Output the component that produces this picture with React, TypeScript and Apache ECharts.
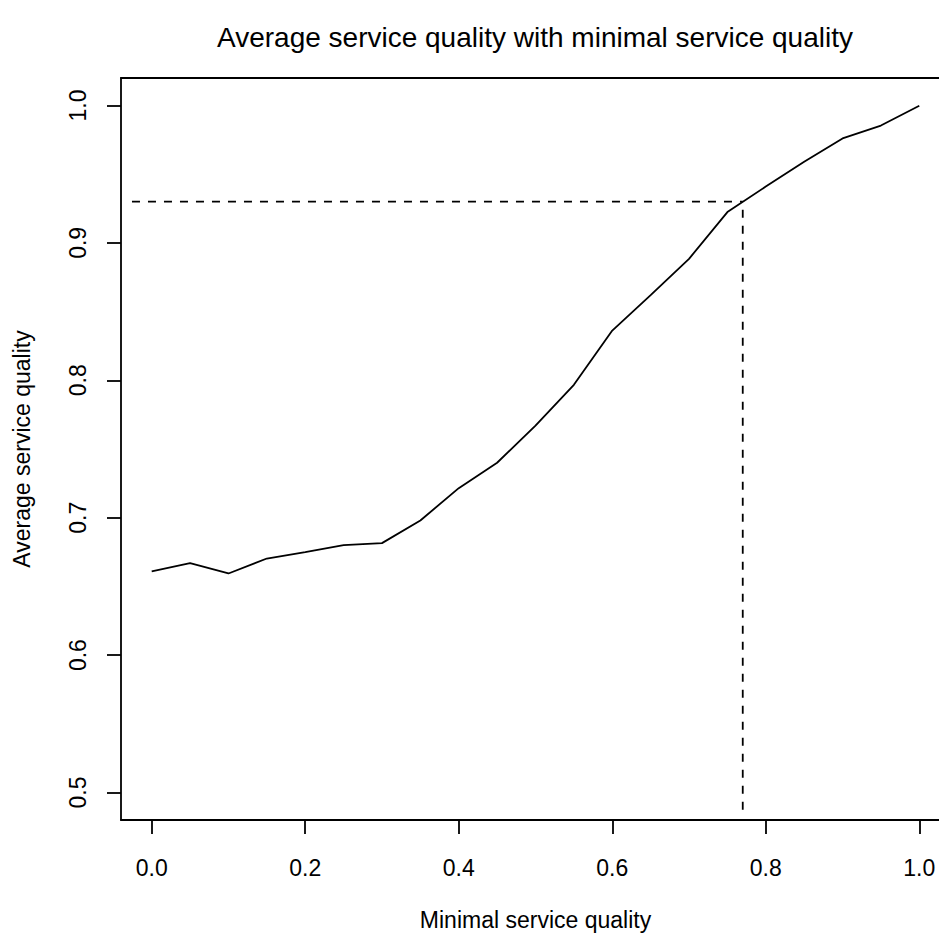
import React, { useEffect, useRef } from "react";
import * as echarts from "echarts";

const titleText = "Average service quality with minimal service quality";
const xName = "Minimal service quality";
const yName = "Average service quality";

const minimalQuality = [0, 0.05, 0.1, 0.15, 0.2, 0.25, 0.3, 0.35, 0.4, 0.45, 0.5, 0.55, 0.6, 0.65, 0.7, 0.75, 0.8, 0.85, 0.9, 0.95, 1.0];
const averageQuality = [0.661, 0.667, 0.6594, 0.6703, 0.675, 0.68, 0.6815, 0.698, 0.7215, 0.74, 0.767, 0.7967, 0.8362, 0.862, 0.8884, 0.9224, 0.941, 0.959, 0.976, 0.9854, 0.9998];

const xTicks = [0, 0.2, 0.4, 0.6, 0.8, 1.0];
const yTicks = [0.5, 0.6, 0.7, 0.8, 0.9, 1.0];

// reference (threshold) lines
const targetAverage = 0.93;
const requiredMinimal = 0.77;
const hLineStart = -0.0257;
const vLineEnd = 0.4874;

const xRange = [-0.04, 1.04];
const yRange = [0.48, 1.02];

export default function App() {
  const ref = useRef<HTMLDivElement>(null);
  useEffect(() => {
    if (!ref.current) return;
    document.body.style.margin = "0";
    document.body.style.overflow = "hidden";
    const chart = echarts.init(ref.current, null, { renderer: "svg" });
    const font = "'Liberation Sans', Arial, Helvetica, sans-serif";
    const boxLine = { show: true, onZero: false, lineStyle: { color: "#000", width: 1.8 } };
    chart.setOption({
      animation: false,
      backgroundColor: "#ffffff",
      textStyle: { fontFamily: font },
      grid: {
        left: 121,
        top: 78,
        width: 829,
        height: 742,
        show: false,
        outerBoundsMode: "none",
        containLabel: false,
      },
      graphic: [
        {
          type: "text",
          x: 535,
          y: 37,
          style: {
            text: titleText,
            fontSize: 28,
            fontFamily: font,
            fill: "#000",
            textAlign: "center",
            textVerticalAlign: "middle",
          },
        },
      ],
      xAxis: [
        {
          type: "value",
          position: "bottom",
          min: xRange[0],
          max: xRange[1],
          name: xName,
          nameLocation: "middle",
          nameGap: 88,
          nameTextStyle: { fontSize: 23, color: "#000", fontFamily: font },
          axisLine: boxLine,
          splitLine: { show: false },
          axisTick: {
            show: true,
            inside: false,
            length: 14,
            customValues: xTicks,
            lineStyle: { color: "#000", width: 1.8 },
          },
          axisLabel: {
            customValues: xTicks,
            margin: 36,
            fontSize: 23,
            color: "#000",
            fontFamily: font,
            formatter: (v: number) => v.toFixed(1),
          },
        },
        {
          type: "value",
          position: "top",
          min: xRange[0],
          max: xRange[1],
          axisLine: boxLine,
          axisTick: { show: false },
          axisLabel: { show: false },
          splitLine: { show: false },
        },
      ],
      yAxis: {
        type: "value",
        min: yRange[0],
        max: yRange[1],
        name: yName,
        nameLocation: "middle",
        nameGap: 88,
        nameTextStyle: { fontSize: 23, color: "#000", fontFamily: font },
        axisLine: boxLine,
        splitLine: { show: false },
        axisTick: {
          show: true,
          inside: false,
          length: 14,
          customValues: yTicks,
          lineStyle: { color: "#000", width: 1.8 },
        },
        axisLabel: {
          customValues: yTicks,
          rotate: 90,
          margin: 32,
          fontSize: 23,
          color: "#000",
          fontFamily: font,
          formatter: (v: number) => v.toFixed(1),
        },
      },
      series: [
        {
          type: "line",
          data: minimalQuality.map((x, i) => [x, averageQuality[i]]),
          showSymbol: false,
          lineStyle: { color: "#000", width: 1.8 },
          silent: true,
        },
        {
          type: "line",
          data: [
            [hLineStart, targetAverage],
            [requiredMinimal, targetAverage],
          ],
          showSymbol: false,
          lineStyle: { color: "#000", width: 1.8, type: [8, 8] },
          silent: true,
        },
        {
          type: "line",
          data: [
            [requiredMinimal, vLineEnd],
            [requiredMinimal, targetAverage],
          ],
          showSymbol: false,
          lineStyle: { color: "#000", width: 1.8, type: [8, 8] },
          silent: true,
        },
      ],
    });
    return () => chart.dispose();
  }, []);
  return (
    <div
      ref={ref}
      style={{ position: "fixed", left: 0, top: 0, width: 939, height: 936, background: "#fff" }}
    />
  );
}
